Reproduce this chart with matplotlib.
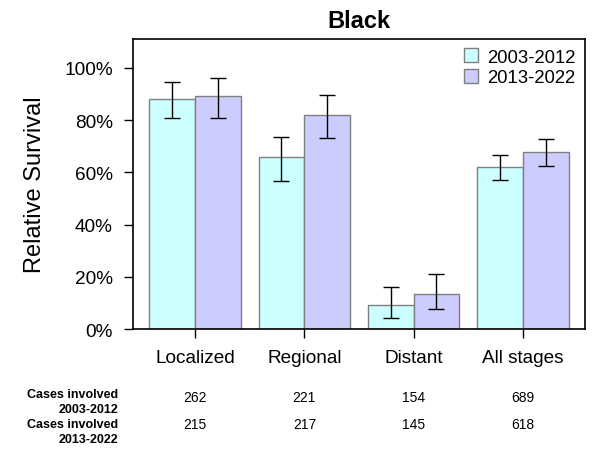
import numpy as np
import matplotlib.pyplot as plt

plt.rcParams['font.family'] = ['Liberation Sans', 'DejaVu Sans']

stages = ['Localized', 'Regional', 'Distant', 'All stages']
periods = ['2003-2012', '2013-2022']
surv_early = [0.881, 0.658, 0.092, 0.622]
low_early = [0.807, 0.568, 0.042, 0.572]
high_early = [0.945, 0.734, 0.161, 0.668]
surv_late = [0.893, 0.819, 0.134, 0.678]
low_late = [0.808, 0.731, 0.077, 0.626]
high_late = [0.962, 0.895, 0.211, 0.728]
cases_early = [262, 221, 154, 689]
cases_late = [215, 217, 145, 618]

colors = ['#CCFFFF', '#CCCCFF']
x = np.arange(len(stages))
w = 0.42

fig = plt.figure(figsize=(5.92, 4.6), dpi=100)
ax = fig.add_axes([0.2247, 0.2826, 0.7633, 0.6304])

for vals, lo, hi, off, col, lab in [
        (surv_early, low_early, high_early, -w / 2, colors[0], periods[0]),
        (surv_late, low_late, high_late, w / 2, colors[1], periods[1])]:
    vals = np.array(vals)
    err = [vals - np.array(lo), np.array(hi) - vals]
    ax.bar(x + off, vals, w, color=col, edgecolor='#7f7f7f', linewidth=1, label=lab)
    ax.errorbar(x + off, vals, yerr=err, fmt='none', ecolor='black',
                elinewidth=1, capsize=6, capthick=1)

ax.set_xlim(-0.57, 3.57)
ax.set_ylim(0, 1.111)
ax.set_yticks(np.arange(0, 1.01, 0.2))
ax.set_yticklabels(['0%', '20%', '40%', '60%', '80%', '100%'])
ax.set_xticks(x)
ax.set_xticklabels(stages)
ax.tick_params(axis='both', direction='out', length=6.5, width=1, labelsize=13.7)
ax.tick_params(axis='x', pad=8)
ax.tick_params(axis='y', pad=8)
for s in ax.spines.values():
    s.set_linewidth(1.2)
ax.set_ylabel('Relative Survival', fontsize=17, labelpad=13)
ax.set_title('Black', fontsize=17, fontweight='bold', pad=9)

leg = ax.legend(loc='upper right', frameon=False, fontsize=13.3, handlelength=0.75,
                handleheight=0.8, handletextpad=0.5, borderaxespad=0.1, labelspacing=0.15)

# case counts table under the axis
label_top = [389.5, 419.5]
num_top = [391.5, 418]
for row, counts in [(0, cases_early), (1, cases_late)]:
    fig.text(118 / 592, 1 - label_top[row] / 460,
             'Cases involved\n' + periods[row], ha='right', va='top',
             fontsize=9, fontweight='bold', linespacing=1.3)
    for xi, c in zip(x, counts):
        fig.text(ax.transData.transform((xi, 0))[0] / fig.dpi / 5.92,
                 1 - num_top[row] / 460, str(c),
                 ha='center', va='top', fontsize=10)

fig.savefig('out.png', dpi=100)
